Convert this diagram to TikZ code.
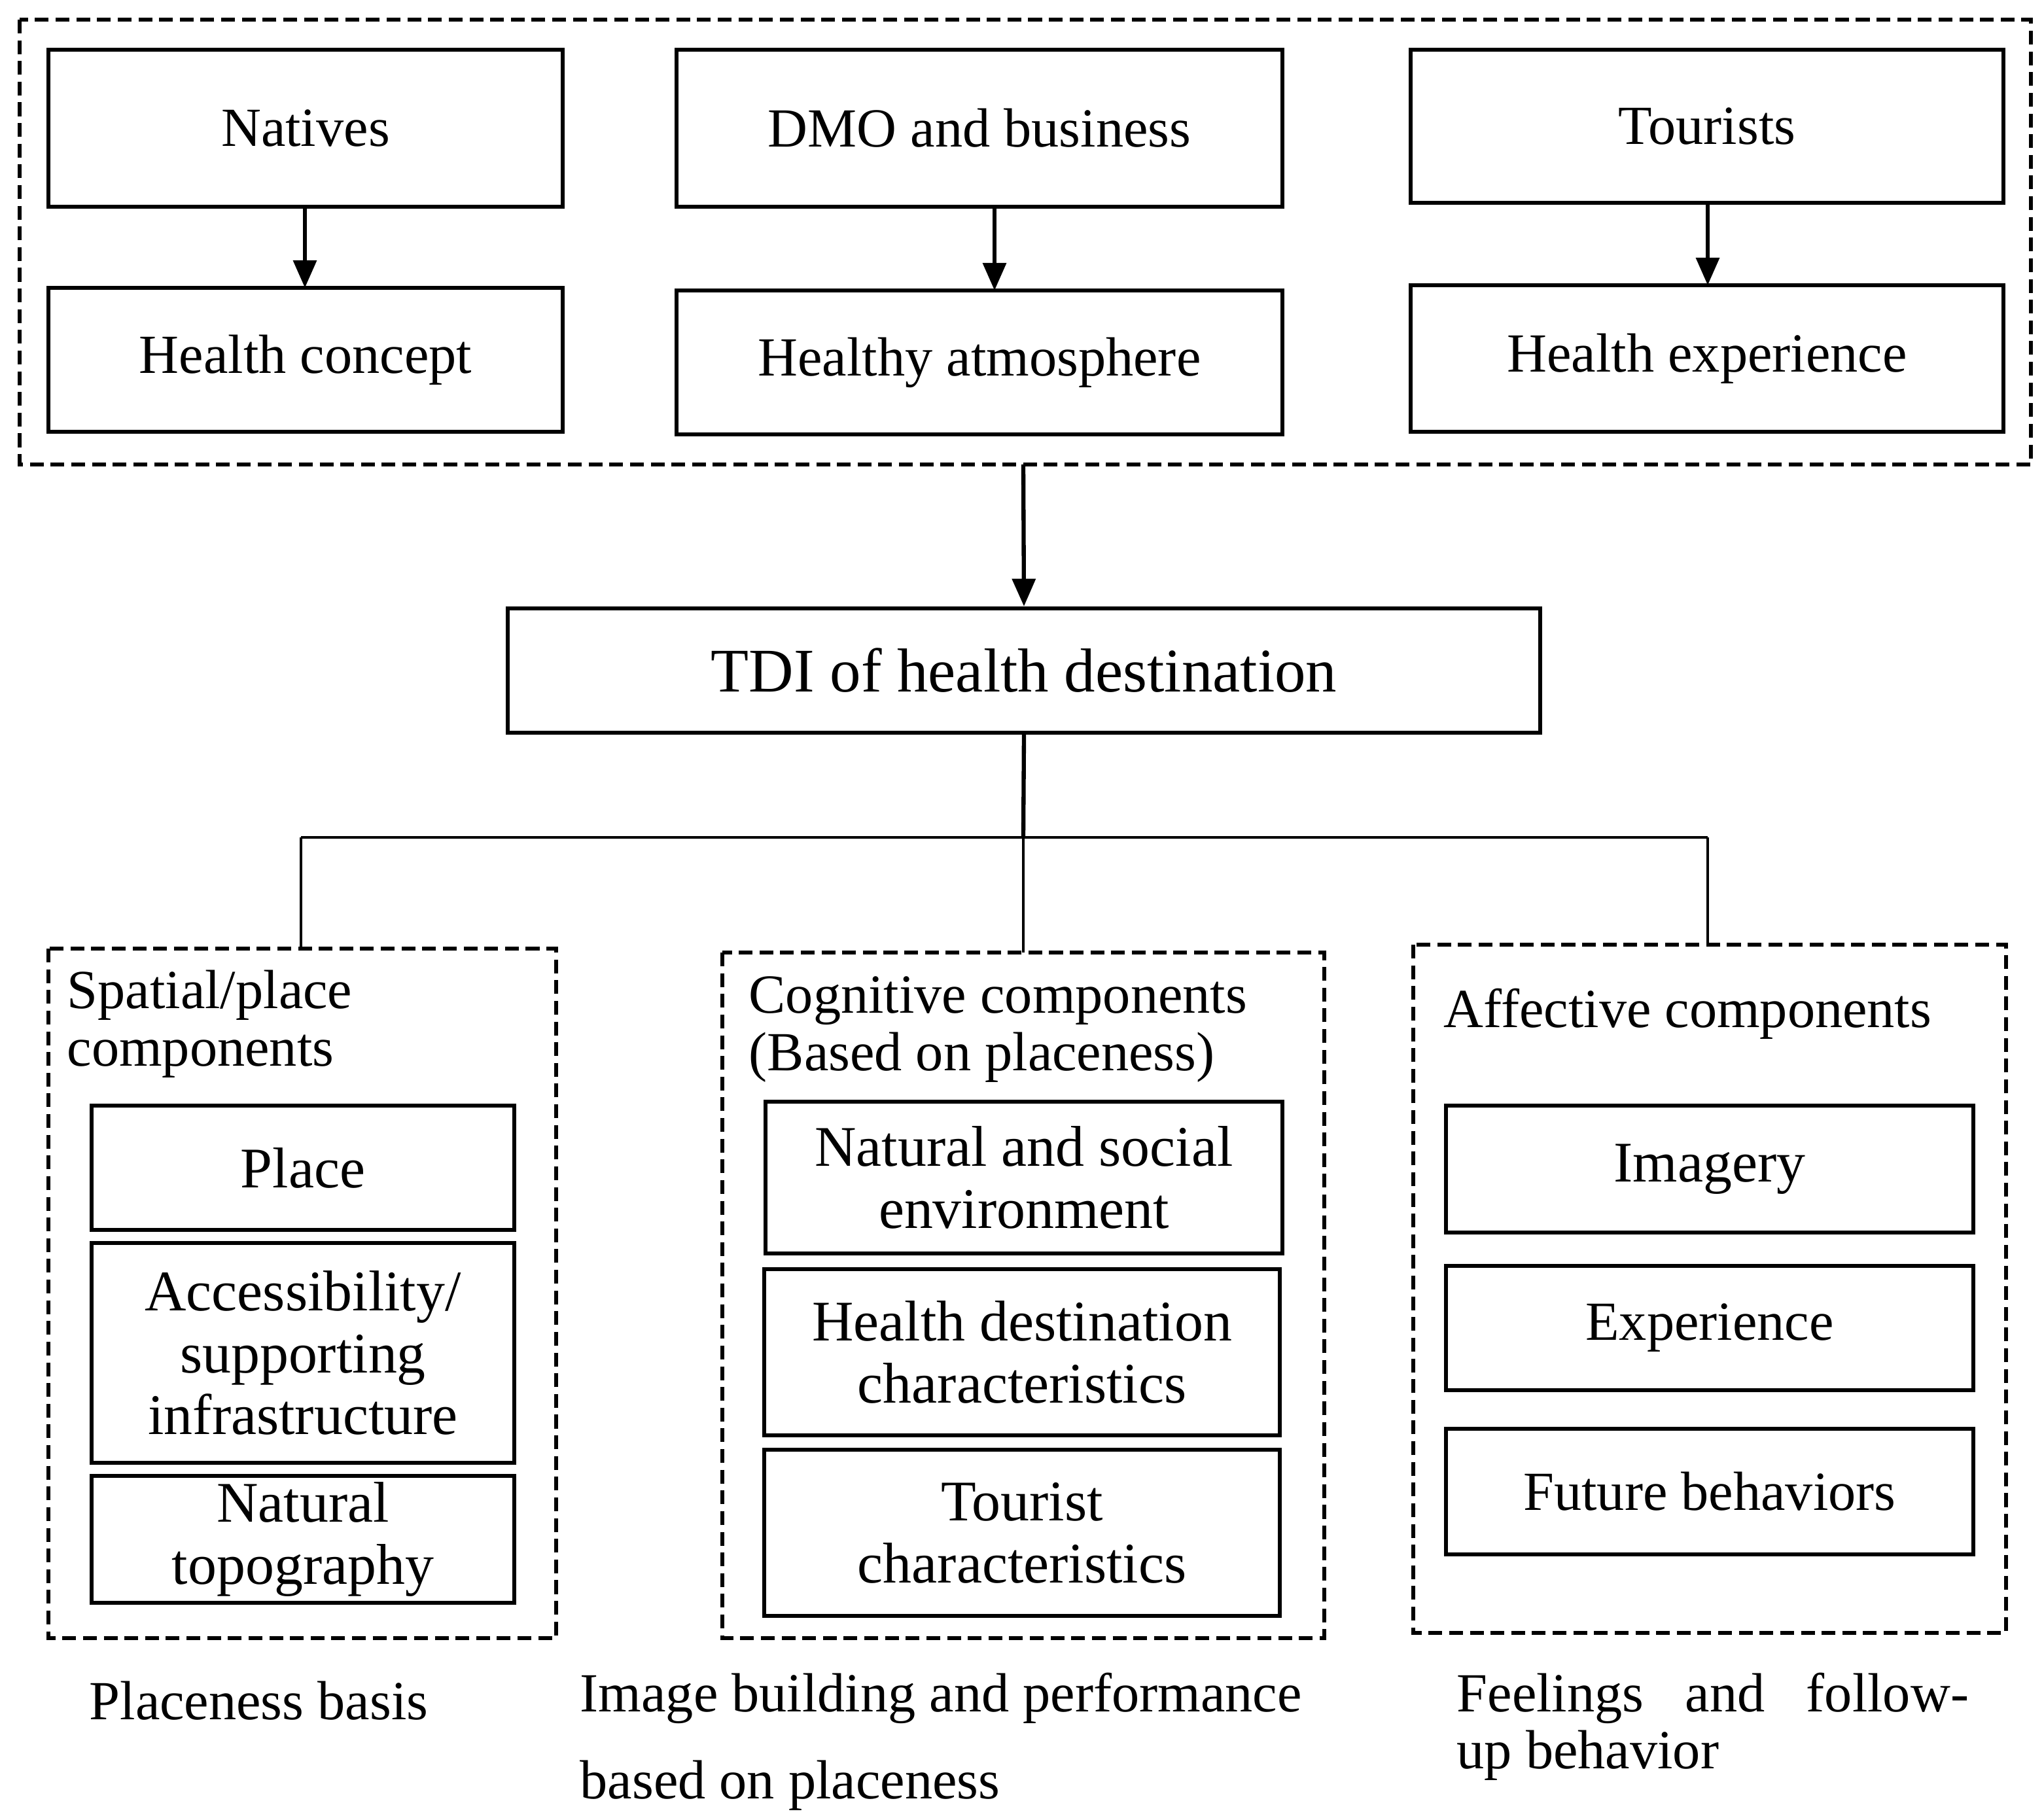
\documentclass[tikz,border=0pt]{standalone}
\usepackage{fontspec}
\setmainfont{Liberation Serif}
\usetikzlibrary{arrows.meta}
\begin{document}
\begin{tikzpicture}[x=0.02cm,y=-0.02cm,
 box/.style={draw,line width=1.8pt},
 dbox/.style={draw,line width=1.8pt,dash pattern=on 6pt off 3pt},
 txt/.style={font=\fontsize{24}{24}\selectfont,align=center},
 btxt/.style={font=\fontsize{25}{27}\selectfont,align=center},
 arr/.style={line width=1.8pt,-{Triangle[length=12pt,width=10pt]}},
 thin/.style={line width=0.9pt}]
\useasboundingbox (0,0) rectangle (1562,1391);
\draw[dbox] (15,15) rectangle (1552,355);
\node[box,minimum width=393*0.02cm,minimum height=120*0.02cm,txt] (nat) at (233.5,98) {Natives};
\node[box,minimum width=393*0.02cm,minimum height=110*0.02cm,txt] (hc) at (233.5,275) {Health concept};
\node[box,minimum width=463*0.02cm,minimum height=120*0.02cm,txt] (dmo) at (748.5,98) {DMO and business};
\node[box,minimum width=463*0.02cm,minimum height=110*0.02cm,txt] (ha) at (748.5,277) {Healthy atmosphere};
\node[box,minimum width=453*0.02cm,minimum height=117*0.02cm,txt] (tou) at (1304.5,96.5) {Tourists};
\node[box,minimum width=453*0.02cm,minimum height=112*0.02cm,txt] (he) at (1304.5,274) {Health experience};
\draw[arr] (233,158) -- (233,220);
\draw[arr] (760,158) -- (760,222);
\draw[arr] (1305,155) -- (1305,218);
\coordinate (top) at (782,355);
\node[box,minimum width=789*0.02cm,minimum height=95*0.02cm,font=\fontsize{27}{27}\selectfont] (tdi) at (782.5,512.5) {TDI of health destination};
\draw[arr] (top) -- (tdi.north);
\coordinate (j) at (782,640);
\coordinate (jl) at (230,640);
\coordinate (jr) at (1305,640);
\draw[line width=1.8pt] (tdi.south) -- (j);
\draw[thin] (jl) -- (jr);
\draw[thin] (jl) -- (230,725);
\draw[thin] (j) -- (782,728);
\draw[thin] (jr) -- (1305,722);
\draw[dbox] (37,725) rectangle (425,1252);
\draw[dbox] (552,728) rectangle (1012,1252);
\draw[dbox] (1080,722) rectangle (1533,1248);
\node[txt,align=left,anchor=north west,inner sep=0pt,font=\fontsize{24}{25}\selectfont] (h1) at (51,741) {Spatial/place\\components};
\node[txt,align=left,anchor=north west,inner sep=0pt,font=\fontsize{24}{25}\selectfont] (h2) at (572,746) {Cognitive components\\(Based on placeness)};
\node[txt,align=left,anchor=north west,inner sep=0pt] (h3) at (1103,755) {Affective components};
\node[box,minimum width=323*0.02cm,minimum height=95*0.02cm,btxt] (p) at (231.5,892.5) {Place};
\node[box,minimum width=323*0.02cm,minimum height=168*0.02cm,btxt,inner sep=0pt] (acc) at (231.5,1034) {Accessibility/\\supporting\\infrastructure};
\node[box,minimum width=323*0.02cm,minimum height=97*0.02cm,btxt,inner sep=0pt] (nt) at (231.5,1176.5) {Natural\\topography};
\node[box,minimum width=395*0.02cm,minimum height=116*0.02cm,btxt,inner sep=0pt] (ns) at (782.5,900) {Natural and social\\environment};
\node[box,minimum width=394*0.02cm,minimum height=127*0.02cm,btxt,inner sep=0pt] (hd) at (781,1033.5) {Health destination\\characteristics};
\node[box,minimum width=394*0.02cm,minimum height=127*0.02cm,btxt,inner sep=0pt] (tc) at (781,1171.5) {Tourist\\characteristics};
\node[box,minimum width=403*0.02cm,minimum height=97*0.02cm,btxt] (im) at (1306.5,893.5) {Imagery};
\node[box,minimum width=403*0.02cm,minimum height=95*0.02cm,txt] (ex) at (1306.5,1015) {Experience};
\node[box,minimum width=403*0.02cm,minimum height=96*0.02cm,txt] (fb) at (1306.5,1140) {Future behaviors};
\node[txt,anchor=west,inner sep=0pt] (b1) at (68,1300) {Placeness basis};
\node[txt,anchor=north west,align=left,inner sep=0pt,font=\fontsize{24}{38}\selectfont] (b2) at (443,1278) {Image building and performance\\based on placeness};
\node[txt,anchor=north west,align=left,inner sep=0pt,font=\fontsize{24}{25}\selectfont] (b3) at (1113,1278) {Feelings\hspace{0.5em} and\hspace{0.5em} follow-\\up behavior};
\end{tikzpicture}
\end{document}
